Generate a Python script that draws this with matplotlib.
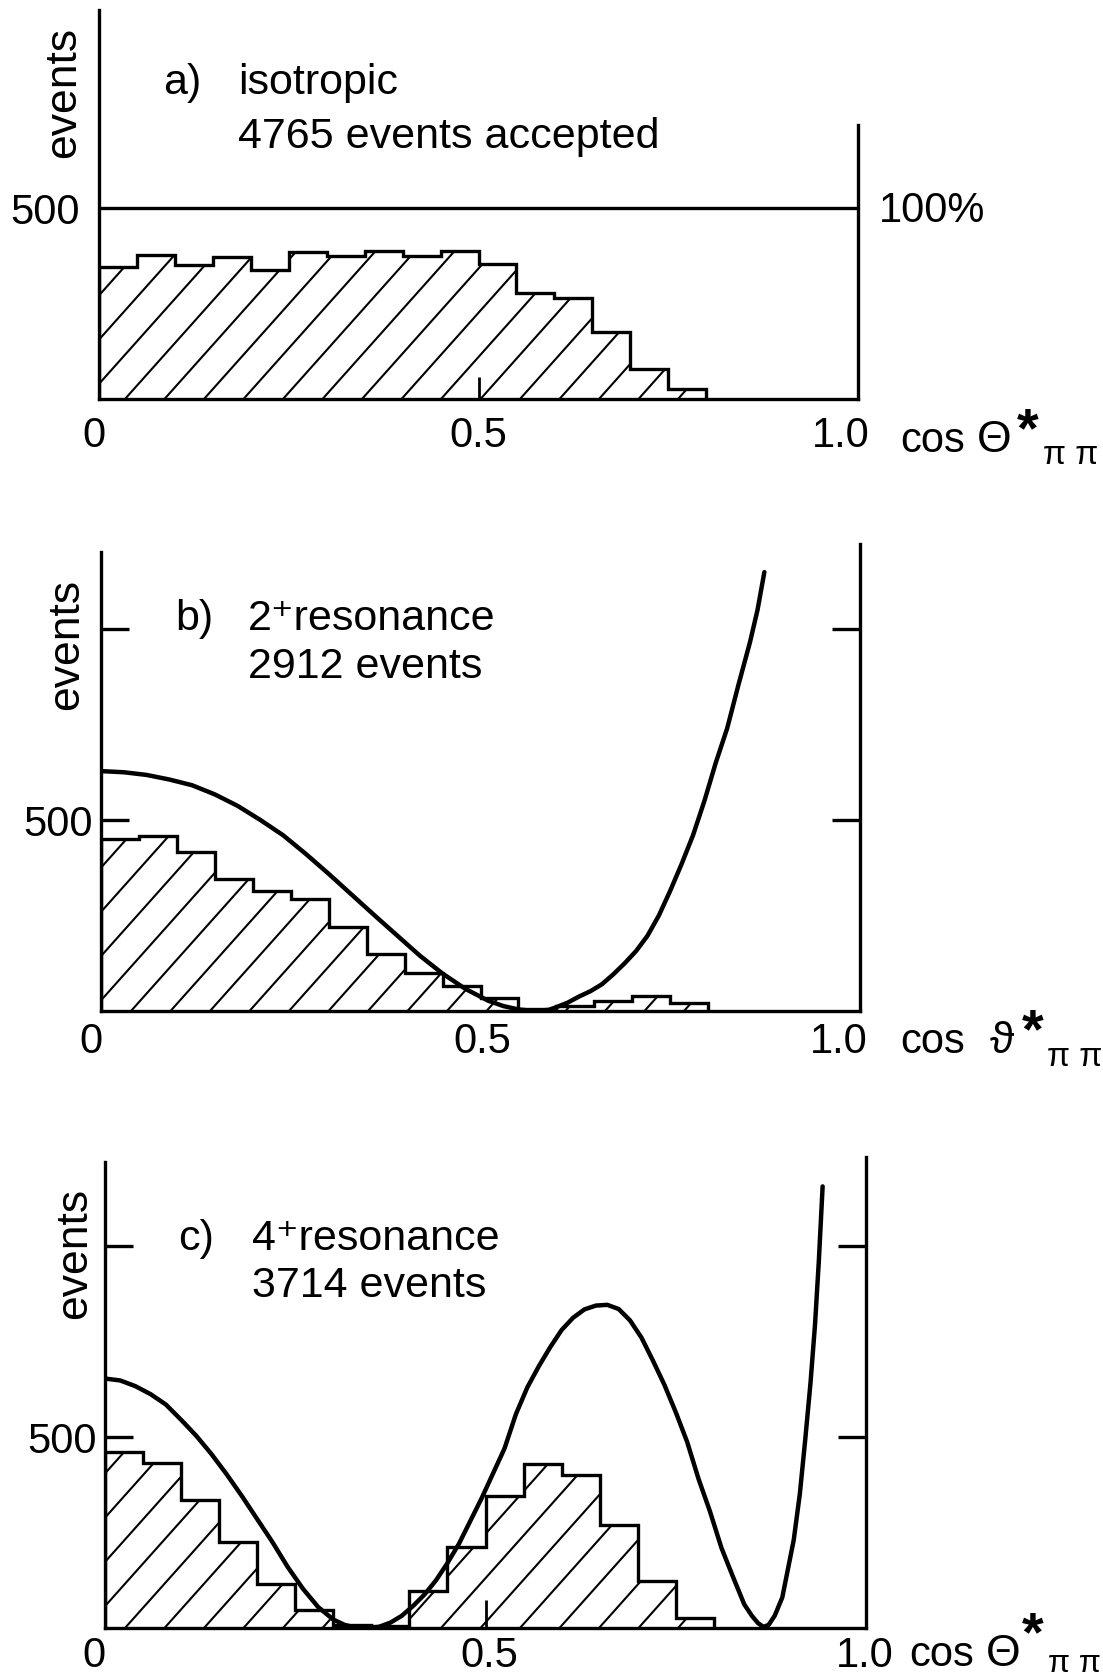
import numpy as np
import matplotlib.pyplot as plt
from matplotlib.collections import LineCollection

plt.rcParams['font.family'] = ['Liberation Sans', 'DejaVu Sans']

W, H = 1103, 1681
PX = 0.382  # pixel per event, same scale in all three panels

# bins in cos theta*
edges = [0.0, 0.05, 0.10, 0.15, 0.20, 0.25, 0.30, 0.35, 0.40,
         0.45, 0.50, 0.55, 0.60, 0.65, 0.70, 0.75, 0.80]

# a) isotropic, 4765 accepted events
iso_counts = [346, 377, 351, 372, 337, 386, 375, 388, 375, 388, 354, 278, 264, 176, 79, 25]
# b) 2+ resonance, 2912 events
res2_counts = [450, 458, 415, 345, 314, 292, 220, 148, 100, 65, 35, 4, 12, 26, 40, 20]
# c) 4+ resonance, 3714 events
res4_counts = [460, 432, 336, 224, 115, 48, 8, 4, 98, 212, 345, 430, 400, 270, 122, 26]

# expected distributions
res2_x = [0.0, 0.03, 0.06, 0.09, 0.12, 0.15, 0.18, 0.21, 0.24, 0.27, 0.30, 0.33,
          0.36, 0.39, 0.42, 0.45, 0.48, 0.51, 0.53, 0.55, 0.572, 0.59, 0.60,
          0.615, 0.63, 0.645, 0.66, 0.675, 0.69, 0.705, 0.72, 0.735, 0.75,
          0.765, 0.78, 0.795, 0.81, 0.825, 0.84, 0.855, 0.865, 0.874]
res2_y = [628, 625, 618, 606, 591, 567, 537, 500, 460, 411, 359, 305,
          251, 198, 145, 98, 58, 27, 13, 4, 0, 3, 10,
          22, 38, 52, 70, 96, 125, 157, 197, 250, 315,
          385, 460, 550, 650, 740, 855, 965, 1050, 1149]

res4_x = [0.0, 0.02, 0.04, 0.06, 0.08, 0.10, 0.12, 0.14, 0.16, 0.18, 0.20, 0.22,
          0.24, 0.26, 0.28, 0.30, 0.315, 0.33, 0.345, 0.36, 0.375, 0.39, 0.405,
          0.42, 0.435, 0.45, 0.465, 0.48, 0.495, 0.51, 0.525, 0.54, 0.555, 0.57,
          0.585, 0.60, 0.615, 0.63, 0.645, 0.66, 0.675, 0.69, 0.705, 0.72,
          0.735, 0.75, 0.765, 0.78, 0.795, 0.81, 0.825, 0.84, 0.85, 0.858,
          0.865, 0.872, 0.88, 0.89, 0.905, 0.913, 0.92, 0.927, 0.933, 0.938, 0.943]
res4_y = [653, 648, 633, 612, 585, 545, 503, 455, 402, 345, 285, 225,
          160, 103, 55, 22, 8, 1, 0, 3, 14, 32, 58,
          88, 125, 170, 220, 280, 340, 405, 470, 560, 630, 685,
          735, 780, 812, 834, 844, 846, 835, 805, 760, 700,
          637, 565, 487, 390, 305, 210, 135, 62, 32, 13,
          3, 8, 32, 80, 230, 350, 490, 640, 794, 960, 1156]

fig = plt.figure(figsize=(W / 100, H / 100), dpi=100)


def fig_text(x, y, s, **kw):
    kw.setdefault('ha', 'left')
    kw.setdefault('va', 'baseline')
    kw.setdefault('size', 31)
    fig.text(x / W, 1 - y / H, s, **kw)


def make_axes(left, right, base, top, left_top, right_top):
    ax = fig.add_axes([left / W, 1 - base / H, (right - left) / W, top * PX / H])
    ax.set_xlim(0, 1)
    ax.set_ylim(0, top)
    ax.spines['top'].set_visible(False)
    for s in ax.spines.values():
        s.set_linewidth(2.4)
    ax.spines['left'].set_bounds(0, left_top)
    ax.spines['right'].set_bounds(0, right_top)
    ax.patch.set_alpha(0)
    return ax


def hatched_hist(ax, counts, phase=26, step=39.5, slope=1.12):
    fill = ax.stairs(counts, edges, fill=True, facecolor='none', edgecolor='none', lw=0)
    pos = ax.get_position()
    w_px, h_px = pos.width * W, pos.height * H
    run = h_px / slope
    x0 = phase - np.ceil(run / step) * step
    segs = []
    while x0 < w_px:
        segs.append([(x0 / w_px, 0), ((x0 + run) / w_px, 1)])
        x0 += step
    lc = LineCollection(segs, colors='k', linewidths=1.5, transform=ax.transAxes)
    ax.add_collection(lc, autolim=False)
    lc.set_clip_path(fill)
    ax.stairs(counts, edges, color='k', lw=2.4)


def x_labels(ax, offsets, dy):
    for val, txt, dx in zip([0, 0.5, 1.0], ['0', '0.5', '1.0'], offsets):
        ax.annotate(txt, xy=(val, 0), xytext=(dx, -dy), textcoords='offset pixels',
                    ha='center', va='center', size=30, annotation_clip=False)


def x_title(x, y, theta, theta_x, star_x, star_y, pi_x, pi_y, pi_size=24):
    # cos theta* with pi pi subscript, placed in figure pixels
    fig_text(x, y, 'cos', size=30)
    fig_text(theta_x, y, theta, size=32)
    fig_text(star_x, star_y, '*', size=40, weight='bold', ha='center')
    fig_text(pi_x, pi_y, 'π π', size=pi_size)


def curve(ax, xs, ys):
    ax.plot(xs, ys, color='k', lw=3.2, solid_capstyle='round', solid_joinstyle='round')


# ---- a) isotropic
ax_a = make_axes(99, 858, 400, 1018, 1018, 717)
hatched_hist(ax_a, iso_counts)
ax_a.axhline(500, color='k', lw=2.4)
ax_a.set_yticks([500], labels=['500'], fontsize=30)
ax_a.tick_params(axis='y', length=0, pad=13.5)
ax_a.set_xticks([0.5], labels=[''])
ax_a.tick_params(axis='x', direction='in', length=16, width=2)
x_labels(ax_a, [-5, 0, -17], 36)

fig_text(163, 94, 'a)')
fig_text(238, 94, 'isotropic')
fig_text(238, 148, '4765 events accepted')
fig_text(879, 211, '100%', size=30, va='center')
fig_text(64, 92, 'events', rotation=90, ha='center', va='center', size=32)
x_title(900, 452, 'Θ', 977, 1028, 446, 1043, 464)

# ---- b) 2+ resonance
ax_b = make_axes(101, 860, 1012, 1222, 1202, 1222)
hatched_hist(ax_b, res2_counts, phase=30)
curve(ax_b, res2_x, res2_y)
ax_b.set_yticks([500, 1000], labels=['500', ''], fontsize=30)
ax_b.tick_params(axis='y', direction='in', length=20, width=2.4, left=True, right=True, pad=6)
ax_b.set_xticks([])
x_labels(ax_b, [-10, 1.5, -21], 30)

fig_text(175, 630, 'b)')
fig_text(248, 630, '2⁺resonance')
fig_text(248, 678, '2912 events')
fig_text(67, 644, 'events', rotation=90, ha='center', va='center', size=32)
x_title(900, 1053, 'ϑ', 990, 1033, 1047, 1047, 1066)

# ---- c) 4+ resonance
ax_c = make_axes(105, 866, 1629, 1233, 1220, 1233)
hatched_hist(ax_c, res4_counts, phase=20)
curve(ax_c, res4_x, res4_y)
ax_c.set_yticks([500, 1000], labels=['500', ''], fontsize=30)
ax_c.tick_params(axis='y', direction='in', length=20, width=2.4, left=True, right=True, pad=6)
ax_c.set_xticks([0.5], labels=[''])
ax_c.tick_params(axis='x', direction='in', length=20, width=2)
x_labels(ax_c, [-11, 4, -1], 27)

fig_text(178, 1250, 'c)')
fig_text(252, 1250, '4⁺resonance')
fig_text(252, 1297, '3714 events')
fig_text(75, 1253, 'events', rotation=90, ha='center', va='center', size=32)
x_title(909, 1666, 'Θ', 986, 1033, 1650, 1048, 1672, pi_size=23)

fig.savefig('out.png', dpi=100, facecolor='white')
